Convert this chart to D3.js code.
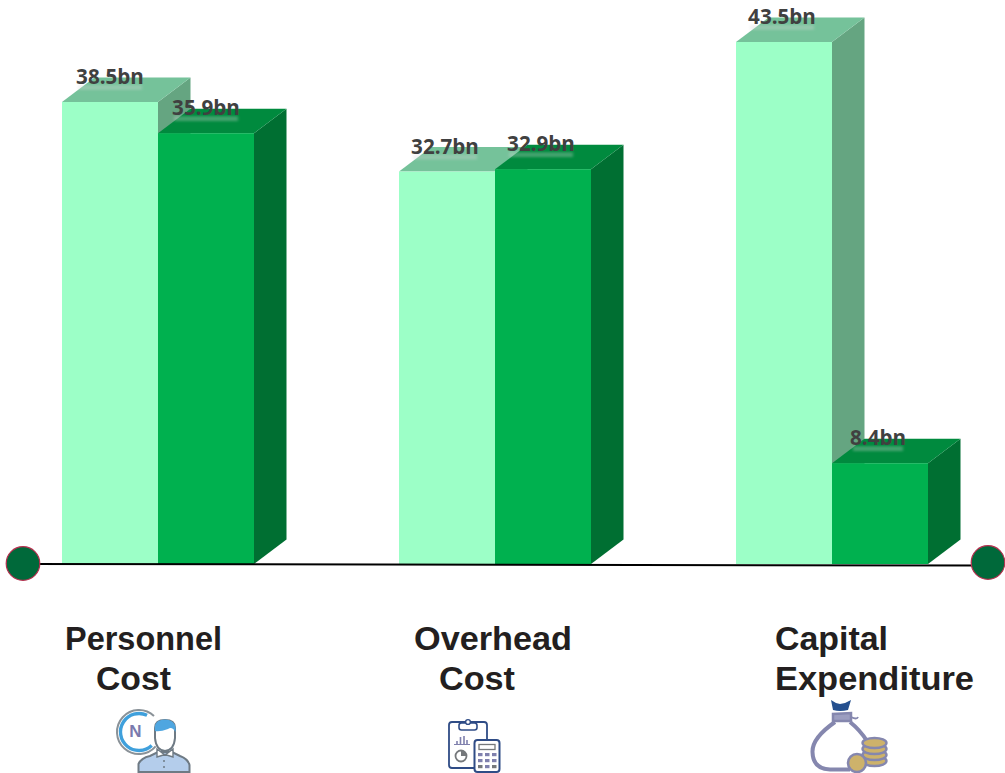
<!DOCTYPE html>
<html><head><meta charset="utf-8">
<script src="https://cdn.jsdelivr.net/npm/d3@7"></script>
<style>html,body{margin:0;padding:0;background:#fff;overflow:hidden}svg{display:block}</style>
</head><body><svg id="c" width="1005" height="773"></svg>
<script>
const categories = ["Personnel Cost", "Overhead Cost", "Capital Expenditure"];
const seriesLight = [38.5, 32.7, 43.5];
const seriesDark = [35.9, 32.9, 8.4];
const categoryLines = [["Personnel", "Cost"], ["Overhead", "Cost"], ["Capital", "Expenditure"]];

const W = 1005, H = 773, BASE = 564, DX = 32.5, DY = 24.5;
const svg = d3.select("#c").attr("viewBox", `0 0 ${W} ${H}`);
const defs = svg.append("defs");
defs.append("filter").attr("id", "smudge").attr("x", "-10%").attr("y", "-60%").attr("width", "120%").attr("height", "220%")
  .append("feGaussianBlur").attr("stdDeviation", "1.6 1.1");

const x0 = d3.scaleBand().domain(categories).range([62, 928]).paddingInner(145 / 337);
const x1 = d3.scaleBand().domain(["light", "dark"]).range([0, x0.bandwidth()]);
const y = d3.scaleLinear().domain([0, 43.5]).range([BASE, 42]);

const styles = {
  light: {front: "#9CFFC7", top: "#75C29A", side: "#65A581"},
  dark: {front: "#00B14F", top: "#008A3E", side: "#006F32"}
};
const bars = [];
categories.forEach((c, i) => {
  bars.push({c, i, s: "light", v: seriesLight[i]});
  bars.push({c, i, s: "dark", v: seriesDark[i]});
});

const gBars = svg.append("g");
const g = gBars.selectAll("g").data(bars).join("g");
const L = d => x0(d.c) + x1(d.s), R = d => L(d) + x1.bandwidth();
g.append("path").attr("fill", d => styles[d.s].side)
  .attr("d", d => `M${R(d)},${y(d.v)}L${R(d)+DX},${y(d.v)-DY}L${R(d)+DX},${BASE-DY}L${R(d)},${BASE}Z`);
g.append("path").attr("fill", d => styles[d.s].top)
  .attr("d", d => `M${L(d)},${y(d.v)}L${L(d)+DX},${y(d.v)-DY}L${R(d)+DX},${y(d.v)-DY}L${R(d)},${y(d.v)}Z`);
g.append("rect").attr("fill", d => styles[d.s].front)
  .attr("x", L).attr("y", d => y(d.v)).attr("width", x1.bandwidth()).attr("height", d => BASE - y(d.v));

// baseline & end dots
svg.append("line").attr("x1", 23).attr("y1", 564).attr("x2", 988).attr("y2", 565.5)
  .attr("stroke", "#000").attr("stroke-width", 2);
[[23, 563.5], [988, 562.5]].forEach(p => svg.append("circle").attr("cx", p[0]).attr("cy", p[1]).attr("r", 16.8)
  .attr("fill", "#00693A").attr("stroke", "#B5304F").attr("stroke-width", 1.2));

// value labels, over a faint smudge standing in for the reference's reflection
const labelFont = "'Open Sans', sans-serif";
const labelX = d => (L(d) + R(d)) / 2 - (d.i === 0 ? 0 : 2);
const labelY = d => y(d.v) - 18;
const gl = svg.append("g").selectAll("g").data(bars).join("g");
gl.append("rect").attr("x", d => labelX(d) - (d.v < 10 ? 25 : 32)).attr("y", d => labelY(d) + 1)
  .attr("width", d => d.v < 10 ? 50 : 64).attr("height", 5).attr("fill", "#d8d8d8").attr("opacity", 0.3)
  .attr("filter", "url(#smudge)");
gl.append("text").attr("x", labelX).attr("y", labelY)
  .attr("text-anchor", "middle").attr("font-family", labelFont).attr("font-weight", 700).attr("font-size", 20.6)
  .attr("fill", "#404040").text(d => d.v.toFixed(1) + "bn");

// category labels
const lineX = [[65, 96], [414, 439], [775, 775]];
const lineW = [[157, 75], [158, 76], [113, 199]];
categoryLines.forEach((ls, i) => ls.forEach((t, j) => svg.append("text")
  .attr("x", lineX[i][j]).attr("y", 649.5 + j * 40.5)
  .attr("textLength", lineW[i][j]).attr("lengthAdjust", "spacingAndGlyphs")
  .attr("font-family", "'Liberation Sans', Arial, sans-serif").attr("font-weight", 700).attr("font-size", 32.5)
  .attr("fill", "#231F20").text(t)));

// icon: person
const ic1 = svg.append("g").attr("fill", "none");
const ringArc = (r, a, b) => d3.arc()({innerRadius: r, outerRadius: r, startAngle: a, endAngle: b});
ic1.append("path").attr("d", ringArc(22, -4.0, 0.75)).attr("transform", "translate(139,732)").attr("stroke", "#8A9298").attr("stroke-width", 2);
ic1.append("path").attr("d", ringArc(18.5, -3.9, 0.45)).attr("transform", "translate(139,732)").attr("stroke", "#3FA0DC").attr("stroke-width", 3.4);
ic1.append("text").attr("x", 135.5).attr("y", 737).attr("text-anchor", "middle")
  .attr("font-family", "'Liberation Sans', sans-serif").attr("font-weight", 700).attr("font-size", 17).attr("fill", "#7A7AAE").text("N");
ic1.append("path").attr("d", "M138.5,772 L138.5,764 Q141,758 150,756 L158,752 L172,752 L180,756 Q188,759 189.5,765 L189.5,772 Z")
  .attr("fill", "#B4CDEB").attr("stroke", "#6E7A84").attr("stroke-width", 2);
ic1.append("path").attr("d", "M157,749 L165,755 L173,749 L173,757 L165,754.5 L157,757 Z").attr("fill", "#fff").attr("stroke", "#6E7A84").attr("stroke-width", 1.4);
ic1.append("path").attr("d", "M155,728 Q155,720 165,720 Q175,720 175,728 L175,738 Q174,750 165,751 Q156,750 155,738 Z")
  .attr("fill", "#fff").attr("stroke", "#6E7A84").attr("stroke-width", 2);
ic1.append("path").attr("d", "M155,731 Q153,720 165,719.5 Q177,720 175.5,732 Q172,726 168,729 Q160,732 155,731 Z").attr("fill", "#4FA6E0");
ic1.selectAll("circle.b").data([761, 767]).join("circle").attr("cx", 164).attr("cy", d => d).attr("r", 1).attr("fill", "#6E7A84");

// icon: clipboard & calculator
const ic2 = svg.append("g").attr("fill", "none");
const navy = "#2F4C86", grape = "#7F80AD", gr = "#75787B";
ic2.append("rect").attr("x", 449).attr("y", 722).attr("width", 38).attr("height", 46).attr("rx", 3).attr("stroke", navy).attr("stroke-width", 1.8).attr("fill", "#fff");
ic2.append("rect").attr("x", 459).attr("y", 723).attr("width", 18).attr("height", 7).attr("rx", 2.5).attr("stroke", navy).attr("stroke-width", 1.6).attr("fill", "#fff");
ic2.append("circle").attr("cx", 468).attr("cy", 722).attr("r", 2.4).attr("stroke", navy).attr("stroke-width", 1.4).attr("fill", "#fff");
ic2.append("path").attr("d", "M454,744.5H470").attr("stroke", grape).attr("stroke-width", 1);
ic2.append("path").attr("d", "M457,744V741M460.5,744V737M464,744V736M467,744V740").attr("stroke", grape).attr("stroke-width", 1.6);
ic2.append("circle").attr("cx", 461).attr("cy", 756).attr("r", 5.5).attr("stroke", gr).attr("stroke-width", 1.8);
ic2.append("path").attr("d", "M461,756V750.5A5.5,5.5 0 0 1 466.5,756Z").attr("fill", gr);
ic2.append("rect").attr("x", 474.5).attr("y", 740).attr("width", 25).attr("height", 32).attr("rx", 3).attr("stroke", navy).attr("stroke-width", 2).attr("fill", "#fff");
ic2.append("rect").attr("x", 479).attr("y", 744.5).attr("width", 16).attr("height", 5).attr("stroke", gr).attr("stroke-width", 1.3);
[0, 1, 2].forEach(r => [0, 1, 2].forEach(k => ic2.append("rect").attr("x", 478 + k * 7).attr("y", 753 + r * 6)
  .attr("width", 4.5).attr("height", 3.2).attr("fill", r === 2 && k !== 1 ? gr : grape)));

// icon: money bag
const ic3 = svg.append("g").attr("fill", "none");
const bag = "#8587AE", gold = "#CDB26B";
ic3.append("path").attr("d", "M831,700 L836,703 L840,704 L845,703 L851,700 L848,710 Q840,712 833,710 Z").attr("fill", "#25508F");
ic3.append("path").attr("d", "M833,721 L833,714 L851,713 L851,721 Z").attr("stroke", bag).attr("stroke-width", 2.5).attr("fill", "#9C9EC0");
ic3.append("path").attr("d", "M851,717 Q857,720 858,717").attr("stroke", bag).attr("stroke-width", 1.8);
ic3.append("path").attr("d", "M835,722 Q812,738 812.5,752 Q813,769 830,769.5 L850,769.5 M850,722 Q860,730 867,741")
  .attr("stroke", bag).attr("stroke-width", 4);
[761, 755, 749, 743].forEach(cy => {
  ic3.append("ellipse").attr("cx", 874.5).attr("cy", cy).attr("rx", 12).attr("ry", 5)
    .attr("fill", gold).attr("stroke", bag).attr("stroke-width", 2.4);
});
ic3.append("circle").attr("cx", 857).attr("cy", 763).attr("r", 9).attr("fill", gold).attr("stroke", bag).attr("stroke-width", 2.6);
</script></body></html>
